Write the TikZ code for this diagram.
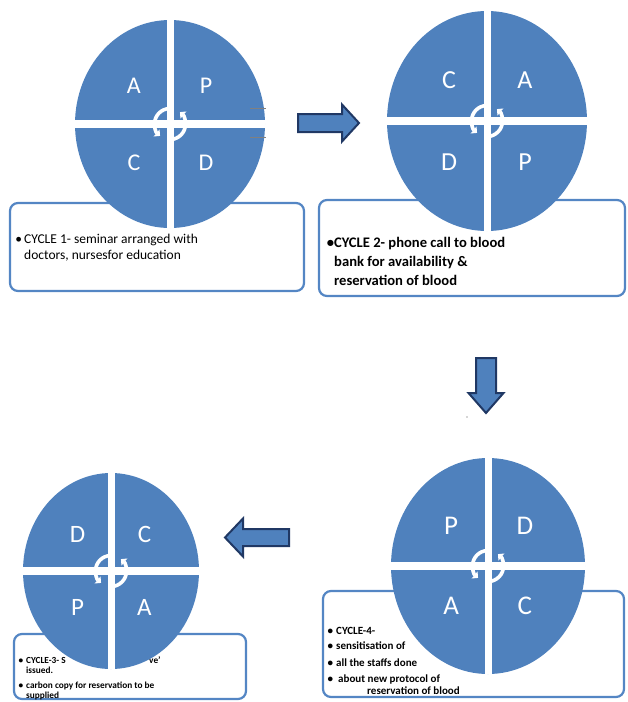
\documentclass[tikz,border=0pt]{standalone}
\usepackage{fontspec}
\setmainfont{Carlito}
\usepackage{tikz}
\usetikzlibrary{arrows.meta, shapes.geometric, positioning, calc}
\definecolor{pdcablue}{RGB}{79, 129, 189}
\definecolor{pdcanavy}{RGB}{32, 56, 100}
\definecolor{boxblue}{RGB}{84, 134, 196}

\begin{document}
\begin{tikzpicture}[x=1pt, y=-1pt,
		cyclebody/.style={ellipse, fill=pdcablue, inner sep=0pt, path picture={
				\draw[white, line width=8.5pt] (path picture bounding box.west) -- (path picture bounding box.east);
				\draw[white, line width=7pt] (path picture bounding box.north) -- (path picture bounding box.south);}},
		quadletter/.style={text=white, inner sep=0pt},
		cycring/.style={white, line width=3.6pt, -{Triangle[length=4.5pt, width=9pt]}},
		textbox/.style={draw=boxblue, line width=2.2pt, fill=white, rounded corners=8pt},
		boxline/.style={anchor=base west, inner sep=0pt},
		blockarrow/.style={fill=pdcablue, draw=pdcanavy, line width=2pt, line join=miter}]
			\useasboundingbox (0,0) rectangle (628,702);
			\foreach \bname/\xa/\ya/\xb/\yb in {b1/10/203/304/291, b2/319/200/625/296, b3/14/634/246/699, b4/323/591/624/697}{
				\pgfmathsetmacro\bw{\xb-\xa}
				\pgfmathsetmacro\bh{\yb-\ya}
				\node[textbox, minimum width=\bw pt, minimum height=\bh pt] (\bname) at ({(\xa+\xb)/2},{(\ya+\yb)/2}) {};
			}
			\begin{scope}[font=\fontsize{13.5}{16}\selectfont]
				\node[boxline] (b1-l1) at (24,243) {\llap{\textbullet\hspace{2pt}}CYCLE 1- seminar arranged with};
				\node[boxline] (b1-l2) at (24,259) {doctors, nursesfor education};
			\end{scope}
			\begin{scope}[font=\fontsize{14.6}{19}\selectfont\bfseries]
				\node[boxline] (b2-l1) at (334,247) {\llap{\textbullet}CYCLE 2- phone call to blood};
				\node[boxline] (b2-l2) at (334,266) {bank for availability \&};
				\node[boxline] (b2-l3) at (334,285) {reservation of blood};
			\end{scope}
			\begin{scope}[font=\fontsize{9.3}{10}\selectfont\bfseries]
				\node[boxline] (b3-l1) at (26,663) {\llap{\textbullet\hspace{3pt}}CYCLE-3- S};
				\node[boxline] (b3-l1b) at (149,663) {ve'};
				\node[boxline] (b3-l2) at (26,673) {issued.};
				\node[boxline] (b3-l3) at (26,688) {\llap{\textbullet\hspace{3pt}}carbon copy for reservation to be};
				\node[boxline] (b3-l4) at (26,698) {supplied};
			\end{scope}
			\begin{scope}[font=\fontsize{11}{14}\selectfont\bfseries]
				\node[boxline] (b4-l1) at (336,634) {\llap{\textbullet\hspace{3pt}}CYCLE-4-};
				\node[boxline] (b4-l2) at (336,649) {\llap{\textbullet\hspace{3pt}}sensitisation of};
				\node[boxline] (b4-l3) at (336,666) {\llap{\textbullet\hspace{3pt}}all the staffs done};
				\node[boxline] (b4-l4) at (338,682) {\llap{\textbullet\hspace{5pt}}about new protocol of};
				\node[boxline] (b4-l5) at (367,694) {reservation of blood};
			\end{scope}
			\foreach \name/\cx/\cy/\rx/\ry/\fsz/\qa/\qb/\qc/\qd in {c1/170/124/95/104/24/A/P/C/D, c2/487/121/100/110/26/C/A/D/P, c3/111/571/88/98/25/D/C/P/A, c4/488/566/97/108/27/P/D/A/C}{
				\pgfmathsetmacro\ew{2*\rx}
				\pgfmathsetmacro\eh{2*\ry}
				\pgfmathsetmacro\ldx{0.38*\rx}
				\pgfmathsetmacro\ldy{0.37*\ry}
				\node[cyclebody, minimum width=\ew pt, minimum height=\eh pt] (\name) at (\cx,\cy) {};
				\begin{scope}[font=\fontsize{\fsz}{\fsz}\selectfont]
					\node[quadletter] (\name-a) at ($(\name)+(-\ldx,-\ldy)$) {\qa};
					\node[quadletter] (\name-b) at ($(\name)+(\ldx,-\ldy)$) {\qb};
					\node[quadletter] (\name-c) at ($(\name)+(-\ldx,\ldy)$) {\qc};
					\node[quadletter] (\name-d) at ($(\name)+(\ldx,\ldy)$) {\qd};
				\end{scope}
				\draw[cycring] (\name.center) ++(100:15.5) arc[start angle=100, end angle=-50, radius=15.5];
				\draw[cycring] (\name.center) ++(280:15.5) arc[start angle=280, end angle=130, radius=15.5];
			}
			\foreach \ax/\ay/\rot/\len/\hw/\hh/\hl in {298/123/0/61/9/18.5/17, 486/358/-90/55/10/17.5/20, 289/537.5/180/64/8.5/19/18}{
				\begin{scope}[shift={(\ax,\ay)}, rotate=\rot]
					\pgfmathsetmacro\neck{\len-\hl}
					\draw[blockarrow] (0,-\hw) -- (\neck,-\hw) -- (\neck,-\hh) -- (\len,0) -- (\neck,\hh) -- (\neck,\hw) -- (0,\hw) -- cycle;
				\end{scope}
			}
			\draw[gray, line width=0.8pt] (250,108) -- (266,108);
			\draw[gray, line width=0.8pt] (250,137) -- (266,137);
			\fill[black!70] (467,417) circle (0.7);
		\end{tikzpicture}
\end{document}
